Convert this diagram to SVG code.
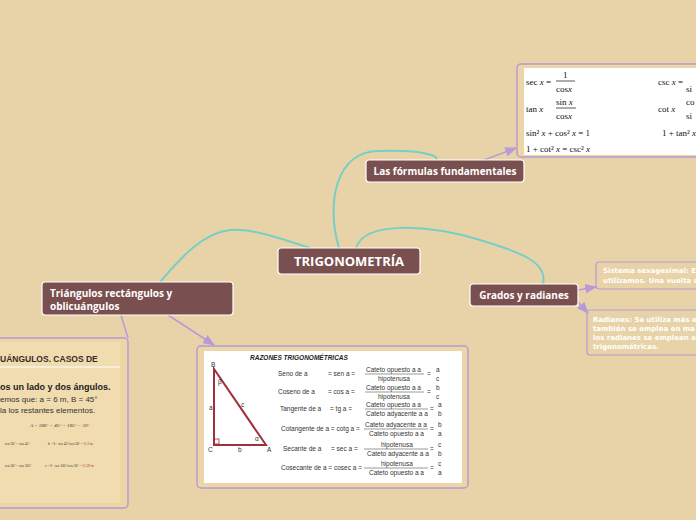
<svg xmlns="http://www.w3.org/2000/svg" width="696" height="520" viewBox="0 0 696 520">
<defs>
<style>
.node{fill:#7a4f4f;stroke:#fff;stroke-width:1.2}
.nt{fill:#fff;font-family:"Open Sans","DejaVu Sans",sans-serif;font-weight:bold;font-size:10px}
.big{font-size:13px}
.teal{fill:none;stroke:#76cfc6;stroke-width:2}
.pur{fill:none;stroke:#b79ad6;stroke-width:1.5}
.panel{fill:#ecd6a6;stroke:#b79ad6;stroke-width:1.5}
.wb{fill:#fff}
.m{font-family:"Liberation Serif",serif;font-size:9px;fill:#111}
.r{font-family:"Liberation Sans",sans-serif;font-size:6.5px;fill:#333}
.pt{fill:#fff;font-family:"DejaVu Sans",sans-serif;font-weight:bold;font-size:7px}
</style>
<marker id="ar" viewBox="0 0 10 10" refX="9" refY="5" markerWidth="8" markerHeight="8" orient="auto"><path d="M0,1L10,5L0,9z" fill="#b79ad6"/></marker>
</defs>
<rect width="696" height="520" fill="#e8d3a8"/>
<g id="connectors">
<path class="teal" d="M339,248 C326,205 335,150 380,151 C420,150 440,155 436,160"/>
<path class="teal" d="M356,248 C365,220 430,225 480,240 C520,252 548,262 543,284"/>
<path class="teal" d="M310,248 C280,238 250,228 230,230 C200,233 175,265 160,282"/>
<path class="pur" d="M484,160 L516,148" marker-end="url(#ar)"/>
<path class="pur" d="M168,315 L214,345" marker-end="url(#ar)"/>
<path class="pur" d="M120,312 L128,338"/>
<path class="pur" d="M578,290 L596,287" marker-end="url(#ar)"/>
<path class="pur" d="M578,302 L588,313" marker-end="url(#ar)"/>
</g>
<g id="formulas">
<rect class="panel" x="517" y="64" width="190" height="93" rx="4"/>
<rect class="wb" x="524" y="68" width="180" height="87"/>
<text class="m" x="526" y="85">sec<tspan font-style="italic"> x</tspan> = </text>
<text class="m" x="563" y="78">1</text><line x1="556" y1="81" x2="575" y2="81" stroke="#111" stroke-width="0.7"/>
<text class="m" x="556" y="92">cos<tspan font-style="italic">x</tspan></text>
<text class="m" x="658" y="85">csc<tspan font-style="italic"> x</tspan> = </text>
<text class="m" x="686" y="92">si</text>
<text class="m" x="526" y="112">tan<tspan font-style="italic"> x</tspan></text>
<text class="m" x="556" y="105">sin<tspan font-style="italic"> x</tspan></text><line x1="556" y1="108" x2="576" y2="108" stroke="#111" stroke-width="0.7"/>
<text class="m" x="556" y="119">cos<tspan font-style="italic">x</tspan></text>
<text class="m" x="658" y="112">cot<tspan font-style="italic"> x</tspan></text>
<text class="m" x="686" y="105">co</text><text class="m" x="686" y="119">si</text>
<text class="m" x="526" y="136">sin² <tspan font-style="italic">x</tspan> + cos² <tspan font-style="italic">x</tspan> = 1</text>
<text class="m" x="662" y="136">1 + tan² <tspan font-style="italic">x</tspan></text>
<text class="m" x="526" y="152">1 + cot² <tspan font-style="italic">x</tspan> = csc² <tspan font-style="italic">x</tspan></text>
</g>
<g id="razones">
<rect class="panel" x="197" y="346" width="271" height="142" rx="4"/>
<rect class="wb" x="204" y="351" width="258" height="132"/>
<text x="250" y="360" font-family="Liberation Sans,sans-serif" font-size="6.5" font-weight="bold" font-style="italic" fill="#222">RAZONES TRIGONOMÉTRICAS</text>
<path d="M214,369 L214,445 L266,445 Z" fill="none" stroke="#a0303a" stroke-width="2"/>
<rect x="214" y="439" width="5" height="5" fill="none" stroke="#a0303a" stroke-width="0.8"/>
<text class="r" x="211" y="367">B</text><text class="r" x="209" y="410">a</text><text class="r" x="241" y="407">c</text>
<text class="r" x="208" y="452">C</text><text class="r" x="238" y="452">b</text><text class="r" x="267" y="452">A</text>
<text class="r" x="218" y="384">β</text><text class="r" x="255" y="441">α</text>
<g class="r">
<text x="278" y="376">Seno de a</text><text x="328" y="376">=  sen a  =</text><text x="366" y="372">Cateto opuesto a a</text><text x="378" y="381">hipotenusa</text><text x="427" y="376">=</text><text x="436" y="372">a</text><text x="436" y="381">c</text>
<text x="278" y="394">Coseno de a</text><text x="328" y="394">=  cos a  =</text><text x="366" y="390">Cateto opuesto a a</text><text x="378" y="399">hipotenusa</text><text x="427" y="394">=</text><text x="436" y="390">b</text><text x="436" y="399">c</text>
<text x="280" y="411">Tangente de a</text><text x="330" y="411">=  tg a  =</text><text x="366" y="407">Cateto opuesto a a</text><text x="366" y="416">Cateto adyacente a a</text><text x="430" y="411">=</text><text x="438" y="407">a</text><text x="438" y="416">b</text>
<text x="281" y="431">Cotangente de a = cotg a =</text><text x="365" y="427">Cateto adyacente a a</text><text x="369" y="436">Cateto opuesto a a</text><text x="430" y="431">=</text><text x="438" y="427">b</text><text x="438" y="436">a</text>
<text x="283" y="451">Secante de a</text><text x="331" y="451">=  sec a  =</text><text x="381" y="447">hipotenusa</text><text x="367" y="456">Cateto adyacente a a</text><text x="430" y="451">=</text><text x="438" y="447">c</text><text x="438" y="456">b</text>
<text x="281" y="470">Cosecante de a = cosec a =</text><text x="381" y="466">hipotenusa</text><text x="369" y="475">Cateto opuesto a a</text><text x="430" y="470">=</text><text x="438" y="466">c</text><text x="438" y="475">a</text>
</g>
<g stroke="#333" stroke-width="0.5"><line x1="365" y1="374" x2="424" y2="374"/><line x1="365" y1="392" x2="424" y2="392"/><line x1="365" y1="409" x2="428" y2="409"/><line x1="364" y1="429" x2="428" y2="429"/><line x1="364" y1="449" x2="428" y2="449"/><line x1="364" y1="468" x2="428" y2="468"/></g>
</g>
<g id="casos">
<rect class="panel" x="-5" y="338" width="133" height="170" rx="4"/>
<rect x="0" y="342" width="120" height="161" fill="#f0dcaf"/>
<text x="0" y="362" font-family="Liberation Sans,sans-serif" font-size="8.5" font-weight="bold" fill="#3a2a2a">UÁNGULOS. CASOS DE</text>
<line x1="0" y1="367" x2="120" y2="367" stroke="#fff" stroke-width="1"/>
<text x="0" y="390" font-family="Liberation Sans,sans-serif" font-size="9" font-weight="bold" fill="#222">os un lado y dos ángulos.</text>
<text x="0" y="402" font-family="Liberation Sans,sans-serif" font-size="8" fill="#333">emos que: a = 6 m, B = 45°</text>
<text x="0" y="413" font-family="Liberation Sans,sans-serif" font-size="8" fill="#333">la los restantes elementos.</text>
<text x="30" y="427" font-family="Liberation Serif,serif" font-size="5" font-style="italic" fill="#333">A = 180° − 45° − 105° = <tspan fill="#a03030">30°</tspan></text>
<text x="5" y="445" font-family="Liberation Serif,serif" font-size="3.5" fill="#333">sen 30° = sen 45°</text>
<text x="48" y="445" font-family="Liberation Serif,serif" font-size="3.5" fill="#333">b = 6 · sen 45°/sen 30° = <tspan fill="#a03030">6√2 m</tspan></text>
<text x="5" y="467" font-family="Liberation Serif,serif" font-size="3.5" fill="#333">sen 30° = sen 105°</text>
<text x="45" y="467" font-family="Liberation Serif,serif" font-size="3.5" fill="#333">c = 6 · sen 105°/sen 30° = <tspan fill="#a03030">11.59 m</tspan></text>
</g>
<g id="center"><rect class="node" x="278" y="248" width="142" height="26" rx="3"/><text class="nt big" x="349" y="266" text-anchor="middle">TRIGONOMETRÍA</text></g>
<g id="formulas-node"><rect class="node" x="366" y="160" width="158" height="22" rx="3"/><text class="nt" x="445" y="175" text-anchor="middle">Las fórmulas fundamentales</text></g>
<g id="grados"><rect class="node" x="470" y="284" width="108" height="22" rx="3"/><text class="nt" x="524" y="299" text-anchor="middle">Grados y radianes</text></g>
<g id="triangulos"><rect class="node" x="42" y="282" width="191" height="33" rx="3"/><text class="nt" x="50" y="297">Triángulos rectángulos y</text><text class="nt" x="50" y="310">oblicuángulos</text></g>
<g id="sexagesimal"><rect x="596" y="262" width="110" height="27" rx="3" fill="none" stroke="#b79ad6" stroke-width="1.2"/><text class="pt" x="603" y="273">Sistema sexagesimal: E</text><text class="pt" x="603" y="283">utilizamos. Una vuelta c</text></g>
<g id="radianes"><rect x="587" y="310" width="120" height="45" rx="3" fill="none" stroke="#b79ad6" stroke-width="1.2"/><text class="pt" x="593" y="322">Radianes: Se utiliza más e</text><text class="pt" x="593" y="331">también se emplea en ma</text><text class="pt" x="593" y="340">los radianes se emplean e</text><text class="pt" x="593" y="349">trigonométricas.</text></g>
</svg>
